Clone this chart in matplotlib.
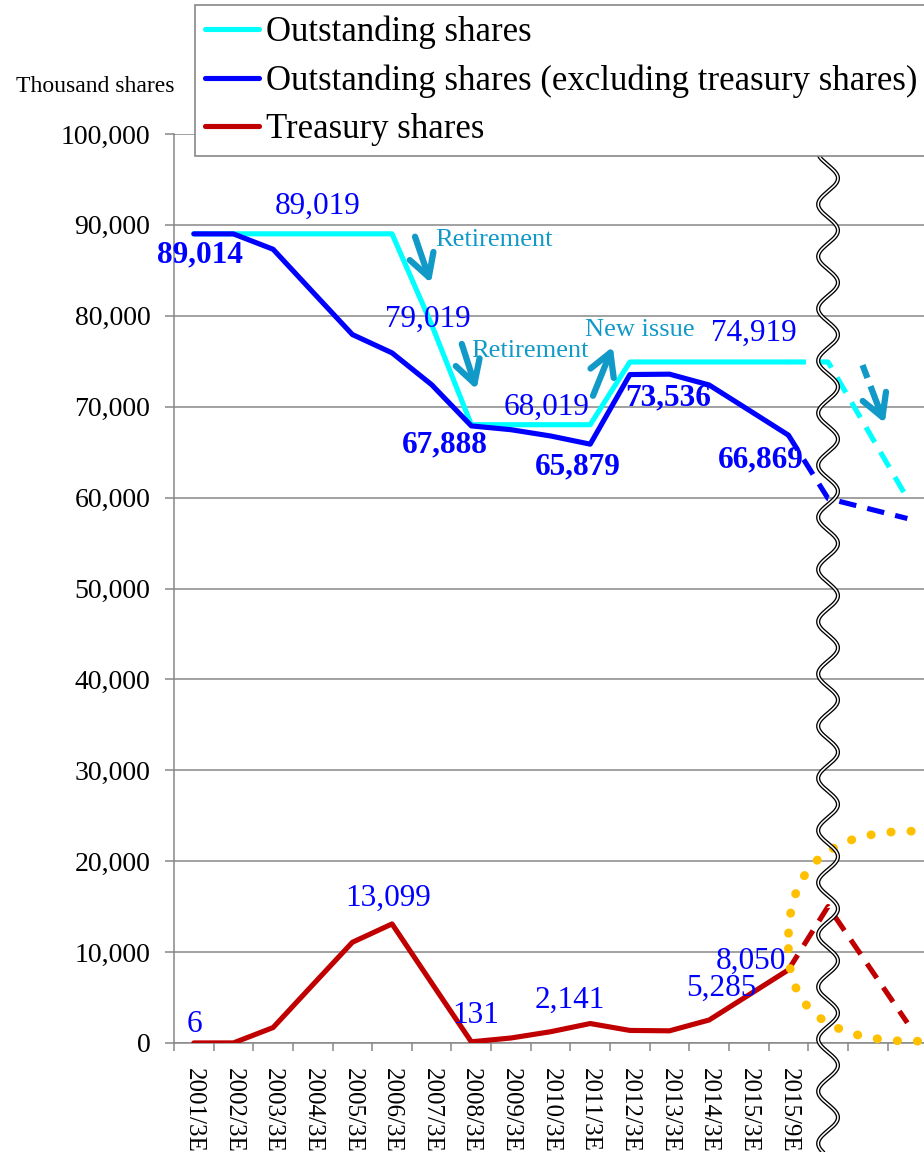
import numpy as np
import matplotlib
matplotlib.use('Agg')
import matplotlib.pyplot as plt
from matplotlib.path import Path
from matplotlib.patches import PathPatch
from matplotlib.ticker import FuncFormatter

plt.rcParams['font.family'] = ['Liberation Serif', 'DejaVu Serif']

# fiscal periods (category axis)
periods = ['2001/3E', '2002/3E', '2003/3E', '2004/3E', '2005/3E', '2006/3E',
           '2007/3E', '2008/3E', '2009/3E', '2010/3E', '2011/3E', '2012/3E',
           '2013/3E', '2014/3E', '2015/3E', '2015/9E']

# thousand shares
outstanding = [89019, 89019, 89019, 89019, 89019, 89019, 79019, 68019,
               68019, 68019, 68019, 74919, 74919, 74919, 74919, 74919]
excl_treasury = [89014, 89009, 87319, 82619, 77939, 75920, 72419, 67888,
                 67469, 66779, 65879, 73536, 73579, 72389, 69634, 66869]
treasury = [6, 10, 1700, 6400, 11080, 13099, 6600, 131,
            550, 1240, 2141, 1383, 1340, 2530, 5285, 8050]

# projected part, past the axis break
proj_pos = [15, 16, 18]
proj_outstanding = [74919, 74919, 59919]
proj_excl = [66869, 59900, 57700]
proj_treasury = [8050, 15019, 2219]

C_OUT = '#00FFFF'
C_EXC = '#0000FF'
C_TRE = '#C00000'
C_NOTE = '#1199C8'
GRID = '#878787'
LW = 3.7

fig = plt.figure(figsize=(9.24, 11.52), dpi=100)
ax = fig.add_axes([174/924, 1 - 1043/1152, 750/924, 909/1152])

pos = np.arange(len(periods))
ax.plot(pos, outstanding, color=C_OUT, lw=LW, solid_joinstyle='round',
        solid_capstyle='round', label='Outstanding shares', zorder=3)
ax.plot(pos, excl_treasury, color=C_EXC, lw=LW, solid_joinstyle='round',
        solid_capstyle='round',
        label='Outstanding shares (excluding treasury shares)', zorder=4)
ax.plot(pos, treasury, color=C_TRE, lw=LW, solid_joinstyle='round',
        solid_capstyle='round', label='Treasury shares', zorder=4)

dash = (0, (3.4, 2.2))
ax.plot(proj_pos, proj_outstanding, color=C_OUT, lw=LW, ls=dash, zorder=3)
ax.plot(proj_pos, proj_excl, color=C_EXC, lw=LW, ls=dash, zorder=4)
ax.plot(proj_pos, proj_treasury, color=C_TRE, lw=LW, ls=dash, zorder=4)

# value labels, offsets in pixels from the point
lab_kw = dict(textcoords='offset pixels', ha='center', va='center',
              color=C_EXC, fontsize=22.5, zorder=6)
for i, off in {3: (5, 27), 6: (-4, 5), 9: (-4, 17), 14: (5, 29)}.items():
    ax.annotate(f'{outstanding[i]:,}', (i, outstanding[i]), xytext=off, **lab_kw)
for i, off in {0: (6, -21), 7: (-26, -19), 10: (-12, -23), 11: (38, -23),
               15: (-28, -25)}.items():
    ax.annotate(f'{excl_treasury[i]:,}', (i, excl_treasury[i]), xytext=off,
                fontweight='bold', **lab_kw)
for i, off in {0: (1, 18), 5: (-4, 26), 7: (4, 26), 10: (-20, 23),
               14: (-27, 7), 15: (-37, 8)}.items():
    ax.annotate(f'{treasury[i]:,}', (i, treasury[i]), xytext=off, **lab_kw)

# retirement / new issue notes
arrow = dict(arrowstyle='->,head_length=0.8,head_width=0.45', color=C_NOTE,
             lw=4.5, shrinkA=0, shrinkB=0, mutation_scale=20)
ax.annotate('', xy=(5.98, 83600), xytext=(5.58, 88700), arrowprops=arrow, zorder=6)
ax.annotate('', xy=(7.13, 71900), xytext=(6.76, 76900), arrowprops=arrow, zorder=6)
ax.annotate('', xy=(10.57, 76600), xytext=(10.07, 71200), arrowprops=arrow, zorder=6)
ax.text(6.08, 88330, 'Retirement', color=C_NOTE, fontsize=19, va='center')
ax.text(7.01, 76120, 'Retirement', color=C_NOTE, fontsize=19, va='center')
ax.text(9.86, 78430, 'New issue', color=C_NOTE, fontsize=19, va='center')
# dashed arrow on the projected outstanding line
ax.plot([16.87, 17.20], [74580, 70770], color=C_NOTE, lw=4.5,
        ls=(0, (2.2, 1.4)), zorder=6)
ax.annotate('', xy=(17.43, 68200), xytext=(17.20, 70770), arrowprops=arrow,
            zorder=6)

# orange dotted bracket around the treasury projection
verts = [(18.1, 23300), (15.0, 23300), (15.0, 11400),
         (15.0, 10400), (15.0, 0), (18.3, 200)]
codes = [Path.MOVETO, Path.CURVE3, Path.CURVE3,
         Path.MOVETO, Path.CURVE3, Path.CURVE3]
ax.add_patch(PathPatch(Path(verts, codes), fill=False, ec='#FFC000', lw=6.3,
                       ls=(0, (0.05, 2.25)), capstyle='round', zorder=5,
                       clip_on=False))

# axis break
wave_v = np.linspace(-12500, 98000, 1200)
wave_x = 16 - 0.25 * np.cos(2 * np.pi * (98000 - wave_v) / 5740)
ax.plot(wave_x, wave_v, color='black', lw=3.0, zorder=7, clip_on=False,
        solid_capstyle='butt')
ax.plot(wave_x, wave_v, color='white', lw=1.1, zorder=8, clip_on=False,
        solid_capstyle='butt')

ax.set_xlim(-0.5, 18.42)
ax.set_ylim(0, 100000)
ax.set_yticks(np.arange(0, 100001, 10000))
ax.yaxis.set_major_formatter(FuncFormatter(lambda v, _: f'{int(v):,}'))
ax.set_xticks(pos)
ax.set_xticklabels(periods, rotation=270)
ax.set_xticks(np.arange(-0.5, 18, 1), minor=True)
ax.tick_params(axis='x', which='major', length=0, pad=18, labelsize=18)
ax.tick_params(axis='x', which='minor', length=6, width=1.1, color=GRID)
ax.tick_params(axis='y', length=6.5, width=1.1, color=GRID, pad=10.5,
               labelsize=20)

for side in ('top', 'right'):
    ax.spines[side].set_visible(False)
for side in ('left', 'bottom'):
    ax.spines[side].set_color(GRID)
    ax.spines[side].set_linewidth(1.1)
ax.yaxis.grid(True, color=GRID, lw=1.1)
ax.set_axisbelow(True)

fig.text(95/924, 1 - 86/1152, 'Thousand shares', ha='center', va='center',
         fontsize=17)

leg = fig.legend(loc='upper left', bbox_to_anchor=(195/924, 1 - 5/1152),
                 borderaxespad=0, fontsize=25, handlelength=1.55,
                 handletextpad=0.2, borderpad=0.3, labelspacing=0.44,
                 fancybox=False, framealpha=1, edgecolor='#888888')
leg.get_frame().set_linewidth(1.2)

fig.savefig('out.png', dpi=100)
